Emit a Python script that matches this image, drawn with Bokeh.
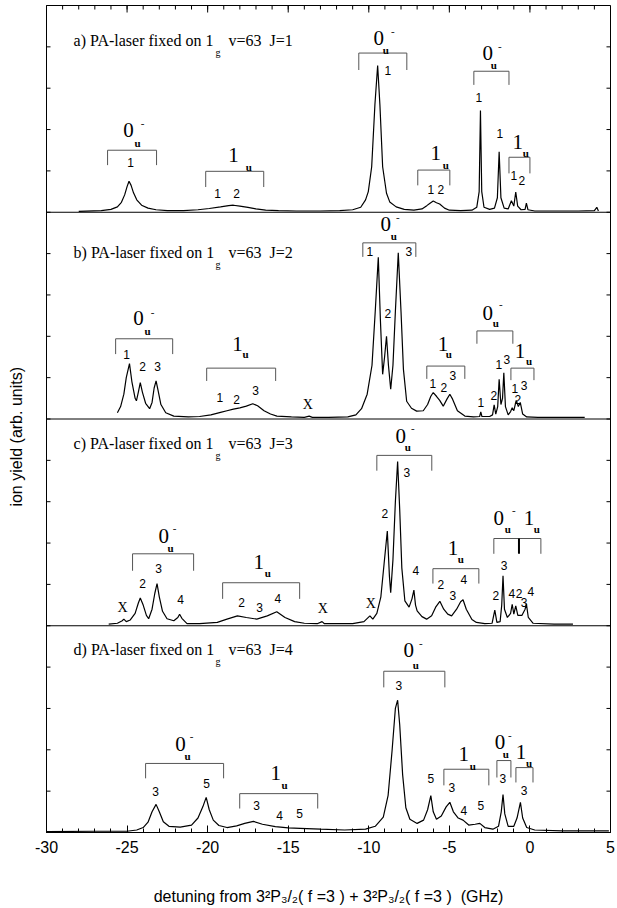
from bokeh.plotting import figure
from bokeh.models import ColumnDataSource, LinearAxis, FixedTicker, Span, Range1d
from bokeh.core.properties import value
from bokeh.embed import file_html
from bokeh.resources import INLINE

# ---------------- data ----------------
x_ticks = [-30, -25, -20, -15, -10, -5, 0, 5]
x_tick_labels = ["-30", "-25", "-20", "-15", "-10", "-5", "0", "5"]
x_minor_ticks = list(range(-30, 6))
y_ticks = list(range(1, 20))

# panel a (J=1) trace: detuning (GHz), ion yield (arb.)
a_ghz = [-28.0, -26.6, -26.0, -25.6, -25.35, -25.15, -25.0, -24.88, -24.75, -24.6, -24.4, -24.1, -23.7, -23.2,
         -22.5, -21.5, -20.6, -19.9, -19.2, -18.7, -18.4, -18.0, -17.5, -17.0, -16.4, -15.6, -14.5, -13.0,
         -11.8, -11.0, -10.5, -10.2, -10.03, -9.82, -9.62, -9.45, -9.31, -9.14, -8.9, -8.7, -8.3, -7.8, -7.2,
         -6.7, -6.4, -6.2, -6.0, -5.8, -5.6, -5.3, -5.0, -4.3, -3.6, -3.3, -3.15, -3.07, -2.99, -2.85, -2.5,
         -2.2, -2.02, -1.91, -1.8, -1.6, -1.35, -1.15, -1.0, -0.88, -0.76, -0.55, -0.3, -0.22, -0.12, 0.3,
         1.5, 3.0, 4.0, 4.15, 4.25]
a_yield = [0.02, 0.04, 0.07, 0.13, 0.24, 0.42, 0.62, 0.75, 0.65, 0.47, 0.30, 0.17, 0.10, 0.06,
           0.04, 0.04, 0.06, 0.09, 0.13, 0.16, 0.17, 0.15, 0.12, 0.08, 0.05, 0.04, 0.03, 0.03,
           0.04, 0.06, 0.12, 0.30, 0.50, 1.10, 2.60, 3.55, 2.60, 1.10, 0.46, 0.25, 0.13, 0.07, 0.05,
           0.08, 0.16, 0.22, 0.27, 0.23, 0.20, 0.10, 0.05, 0.04, 0.05, 0.12, 0.50, 2.46, 0.50, 0.12, 0.07,
           0.10, 0.35, 1.46, 0.35, 0.10, 0.08, 0.28, 0.15, 0.49, 0.15, 0.06, 0.07, 0.22, 0.06, 0.03,
           0.03, 0.03, 0.04, 0.12, 0.03]

# panel b (J=2)
b_ghz = [-25.6, -25.4, -25.2, -25.05, -24.85, -24.7, -24.5, -24.42, -24.3, -24.18, -24.05, -23.85, -23.6,
         -23.45, -23.32, -23.2, -23.08, -22.9, -22.6, -22.1, -21.2, -20.5, -19.8, -19.2, -18.8, -18.4, -18.0,
         -17.6, -17.2, -16.9, -16.5, -16.1, -15.7, -14.8, -14.0, -13.7, -13.5, -12.5, -11.3, -10.8, -10.45,
         -10.1, -9.8, -9.6, -9.41, -9.28, -9.14, -9.02, -8.9, -8.78, -8.64, -8.5, -8.35, -8.17, -8.0, -7.85,
         -7.65, -7.35, -7.03, -6.62, -6.35, -6.15, -6.0, -5.8, -5.6, -5.38, -5.15, -4.97, -4.8, -4.5, -4.04,
         -3.5, -3.12, -3.05, -2.98, -2.5, -2.32, -2.22, -2.12, -2.0, -1.91, -1.8, -1.7, -1.62, -1.52, -1.35,
         -1.2, -1.1, -1.0, -0.85, -0.72, -0.6, -0.45, -0.2, 0.5, 2.0, 3.4]
b_yield = [0.15, 0.30, 0.60, 1.00, 1.34, 0.90, 0.50, 0.44, 0.65, 0.88, 0.65, 0.38, 0.25,
           0.40, 0.75, 0.92, 0.70, 0.35, 0.15, 0.07, 0.05, 0.06, 0.10, 0.16, 0.20, 0.24, 0.27,
           0.31, 0.37, 0.32, 0.20, 0.12, 0.07, 0.05, 0.04, 0.07, 0.04, 0.04, 0.05, 0.10, 0.25,
           0.60, 1.30, 2.60, 3.91, 2.40, 1.08, 1.50, 2.00, 1.30, 0.72, 1.30, 2.60, 4.02, 2.60, 1.20,
           0.43, 0.26, 0.19, 0.20, 0.35, 0.55, 0.64, 0.55, 0.45, 0.31, 0.48, 0.60, 0.48, 0.20, 0.07,
           0.05, 0.06, 0.17, 0.06, 0.06, 0.10, 0.34, 0.12, 0.30, 0.96, 0.35, 0.50, 1.12, 0.30, 0.10,
           0.18, 0.27, 0.20, 0.45, 0.30, 0.40, 0.12, 0.05, 0.04, 0.04, 0.04]

# panel c (J=3)
c_ghz = [-26.14, -25.6, -25.3, -25.2, -25.05, -24.8, -24.5, -24.3, -24.18, -24.0, -23.8, -23.66, -23.45,
         -23.28, -23.14, -23.0, -22.8, -22.52, -22.1, -21.85, -21.74, -21.6, -21.28, -20.5, -19.4, -18.8,
         -18.15, -17.6, -16.95, -16.3, -15.71, -15.2, -14.6, -14.0, -13.2, -12.9, -12.75, -11.0, -10.3,
         -9.93, -9.75, -9.5, -9.25, -9.05, -8.85, -8.72, -8.64, -8.5, -8.35, -8.21, -8.08, -7.95, -7.76,
         -7.5, -7.32, -7.2, -7.1, -7.0, -6.7, -6.41, -6.1, -5.85, -5.59, -5.35, -5.1, -4.86, -4.55, -4.3,
         -4.15, -3.95, -3.6, -3.32, -2.8, -2.35, -2.18, -2.05, -1.85, -1.75, -1.67, -1.58, -1.4, -1.2,
         -1.1, -1.0, -0.88, -0.75, -0.5, -0.3, -0.22, -0.1, 0.2, 1.5, 2.67]
c_yield = [0.04, 0.06, 0.12, 0.16, 0.10, 0.14, 0.30, 0.55, 0.67, 0.50, 0.25, 0.17, 0.40,
           0.78, 1.02, 0.70, 0.35, 0.17, 0.12, 0.20, 0.28, 0.18, 0.05, 0.05, 0.08, 0.16,
           0.24, 0.20, 0.16, 0.24, 0.34, 0.20, 0.10, 0.06, 0.05, 0.10, 0.05, 0.05, 0.10,
           0.24, 0.16, 0.30, 0.70, 1.50, 2.29, 1.20, 0.80, 1.60, 3.00, 3.97, 2.80, 1.40, 0.60,
           0.45, 0.65, 0.86, 0.50, 0.36, 0.22, 0.16, 0.24, 0.45, 0.59, 0.40, 0.28, 0.24, 0.40, 0.58,
           0.63, 0.40, 0.15, 0.08, 0.05, 0.06, 0.38, 0.08, 0.10, 0.50, 1.21, 0.40, 0.20, 0.30,
           0.52, 0.28, 0.48, 0.25, 0.25, 0.40, 0.53, 0.20, 0.06, 0.04, 0.04]

# panel d (J=4)
d_ghz = [-30.0, -27.0, -25.0, -24.4, -24.0, -23.7, -23.45, -23.2, -23.0, -22.75, -22.4, -21.7, -21.0,
         -20.6, -20.3, -20.09, -19.9, -19.65, -19.3, -18.8, -18.2, -17.7, -17.16, -16.6, -15.8, -15.0,
         -14.26, -13.0, -11.5, -10.2, -9.6, -9.1, -8.8, -8.55, -8.35, -8.21, -8.08, -7.9, -7.7, -7.45,
         -7.0, -6.6, -6.35, -6.15, -6.0, -5.8, -5.5, -5.2, -4.97, -4.75, -4.45, -4.15, -3.8, -3.4, -3.11,
         -2.8, -2.3, -1.95, -1.78, -1.67, -1.56, -1.35, -1.0, -0.8, -0.59, -0.45, -0.2, 0.3, 2.0, 4.9]
d_yield = [0.02, 0.03, 0.03, 0.06, 0.12, 0.25, 0.50, 0.68, 0.50, 0.26, 0.15, 0.13, 0.18,
           0.35, 0.62, 0.85, 0.55, 0.30, 0.17, 0.12, 0.16, 0.22, 0.27, 0.20, 0.14, 0.11,
           0.10, 0.08, 0.06, 0.08, 0.15, 0.37, 0.90, 2.00, 3.00, 3.20, 2.60, 1.40, 0.60, 0.32,
           0.22, 0.30, 0.55, 0.89, 0.50, 0.32, 0.40, 0.62, 0.73, 0.50, 0.35, 0.30, 0.18, 0.20, 0.22,
           0.12, 0.08, 0.15, 0.50, 0.92, 0.45, 0.15, 0.15, 0.35, 0.73, 0.35, 0.12, 0.06, 0.04, 0.04]

# panel titles
NB = "\u00a0"
title_heads = ["a) PA-laser fixed on 1", "b) PA-laser fixed on 1", "c) PA-laser fixed on 1", "d) PA-laser fixed on 1"]
title_tails = ["v=63" + NB * 2 + "J=1", "v=63" + NB * 2 + "J=2", "v=63" + NB * 2 + "J=3", "v=63" + NB * 2 + "J=4"]
title_y = [4.16, 4.02, 4.41, 4.43]

# brackets: (start GHz, end GHz, top, bottom of end ticks) in panel units
a_brackets = [(-26.21, -23.17, 1.50, 1.14), (-20.12, -16.52, 0.99, 0.61), (-10.62, -7.64, 3.85, 3.44),
              (-6.96, -4.97, 1.02, 0.65), (-3.48, -1.30, 3.41, 3.08), (-1.30, 0.0, 1.33, 0.94)]
b_brackets = [(-25.71, -22.17, 1.94, 1.57), (-20.06, -15.78, 1.23, 0.92), (-10.37, -7.08, 4.26, 3.92),
              (-6.40, -4.04, 1.28, 0.97), (-3.29, -1.06, 2.13, 1.82), (-1.18, 0.25, 1.23, 0.94)]
c_brackets = [(-24.66, -20.87, 1.74, 1.33), (-19.07, -14.29, 1.04, 0.65), (-9.50, -6.09, 4.12, 3.75),
              (-6.02, -3.17, 1.38, 1.02), (-2.24, 0.68, 2.11, 1.74)]
c_divider = (-0.68, 2.11, 1.74)
d_brackets = [(-23.85, -19.01, 1.67, 1.31), (-18.01, -13.17, 0.94, 0.58), (-9.07, -5.28, 3.90, 3.51),
              (-5.34, -2.55, 1.53, 1.14), (-2.05, -1.18, 1.74, 1.33), (-0.87, 0.19, 1.57, 1.21)]

# state symbols: large digit, subscript u, superscript minus
a_big = [(-24.91, 1.99, "0"), (-18.39, 1.38, "1"), (-9.38, 4.21, "0"), (-5.84, 1.43, "1"), (-2.61, 3.85, "0"), (-0.75, 1.69, "1")]
a_u = [(-24.35, 1.67), (-17.45, 1.09), (-8.94, 3.92), (-5.22, 1.14), (-2.24, 3.56), (-0.25, 1.43)]
a_minus = [(-24.04, 2.15), (-8.51, 4.36), (-1.86, 4.00)]
b_big = [(-24.29, 2.45, "0"), (-18.14, 1.82, "1"), (-8.94, 4.72, "0"), (-5.40, 1.82, "1"), (-2.61, 2.57, "0"), (-0.62, 1.65, "1")]
b_u = [(-23.73, 2.13), (-17.64, 1.57), (-8.45, 4.43), (-5.03, 1.57), (-2.11, 2.32), (-0.06, 1.40)]
b_minus = [(-23.42, 2.57), (-8.20, 4.87), (-1.80, 2.78)]
c_big = [(-22.73, 2.18, "0"), (-16.83, 1.53, "1"), (-8.01, 4.60, "0"), (-4.78, 1.89, "1"), (-1.93, 2.61, "0"), (-0.06, 2.61, "1")]
c_u = [(-22.30, 1.89), (-16.27, 1.28), (-7.58, 4.33), (-4.29, 1.62), (-1.37, 2.35), (0.43, 2.35)]
c_minus = [(-22.05, 2.35), (-7.27, 4.77), (-1.00, 2.78)]
d_big = [(-21.68, 2.15, "0"), (-15.78, 1.43, "1"), (-7.52, 4.41, "0"), (-4.10, 1.91, "1"), (-1.86, 2.18, "0"), (-0.56, 1.94, "1")]
d_u = [(-21.24, 1.86), (-15.22, 1.14), (-7.08, 4.04), (-3.54, 1.62), (-1.49, 1.91), (-0.06, 1.67)]
d_minus = [(-20.99, 2.32), (-6.77, 4.58), (-1.24, 2.35)]

# line assignment numbers
a_nums = [(-24.78, 1.21, "1"), (-19.38, 0.46, "1"), (-18.20, 0.46, "2"), (-8.82, 3.44, "1"), (-6.15, 0.56, "1"),
          (-5.53, 0.56, "2"), (-3.17, 2.78, "1"), (-1.86, 1.91, "1"), (-1.00, 0.90, "1"), (-0.50, 0.77, "2")]
b_nums = [(-25.03, 1.57, "1"), (-24.04, 1.26, "2"), (-23.11, 1.26, "3"), (-19.25, 0.53, "1"), (-18.20, 0.48, "2"),
          (-17.02, 0.68, "3"), (-9.94, 4.04, "1"), (-7.52, 4.04, "3"), (-8.82, 2.54, "2"), (-6.02, 0.87, "1"),
          (-5.34, 0.75, "2"), (-4.78, 1.04, "3"), (-3.04, 0.39, "1"), (-2.24, 0.58, "2"), (-1.93, 1.33, "1"),
          (-1.43, 1.43, "3"), (-0.93, 0.73, "1"), (-0.37, 0.80, "3"), (-0.75, 0.48, "2")]
c_nums = [(-24.04, 1.02, "2"), (-23.04, 1.38, "3"), (-21.68, 0.63, "4"), (-17.89, 0.56, "2"), (-16.77, 0.44, "3"),
          (-15.65, 0.65, "4"), (-7.64, 3.70, "3"), (-9.01, 2.71, "2"), (-7.08, 1.33, "4"), (-5.53, 0.99, "2"),
          (-4.78, 0.73, "3"), (-4.10, 1.11, "4"), (-1.61, 1.45, "3"), (-2.11, 0.73, "2"), (-1.12, 0.77, "4"),
          (-0.68, 0.77, "2"), (-0.37, 0.56, "3"), (0.06, 0.82, "4")]
d_nums = [(-23.23, 0.99, "3"), (-20.06, 1.19, "5"), (-16.96, 0.65, "3"), (-15.53, 0.41, "4"), (-14.29, 0.46, "5"),
          (-8.14, 3.56, "3"), (-6.15, 1.31, "5"), (-4.84, 1.09, "3"), (-4.10, 0.53, "4"), (-3.04, 0.65, "5"),
          (-1.68, 1.31, "3"), (-0.37, 1.02, "3")]

# spurious lines marked X
b_X = [(-13.79, 0.34)]
c_X = [(-25.28, 0.44), (-12.86, 0.41), (-9.88, 0.53)]

x_title = ("detuning from 3\u00b2P\u2083/\u2082( f =3 ) + 3\u00b2P\u2083/\u2082( f =3 )" + NB * 2 + "(GHz)")
y_title = "ion yield (arb. units)"

# ---------------- figure ----------------
PANEL = 5.0
YMAX = 4 * PANEL
panels = [
    dict(ghz=a_ghz, y=a_yield, off=3 * PANEL, br=a_brackets, big=a_big, u=a_u, mi=a_minus, nums=a_nums, X=[]),
    dict(ghz=b_ghz, y=b_yield, off=2 * PANEL, br=b_brackets, big=b_big, u=b_u, mi=b_minus, nums=b_nums, X=b_X),
    dict(ghz=c_ghz, y=c_yield, off=1 * PANEL, br=c_brackets, big=c_big, u=c_u, mi=c_minus, nums=c_nums, X=c_X),
    dict(ghz=d_ghz, y=d_yield, off=0.0, br=d_brackets, big=d_big, u=d_u, mi=d_minus, nums=d_nums, X=[]),
]

p = figure(frame_width=564, frame_height=827, x_range=Range1d(-30, 5), y_range=Range1d(0, YMAX),
           output_backend="svg", toolbar_location=None, x_axis_location=None, y_axis_location=None,
           min_border_left=46, min_border_right=7, min_border_top=5, min_border_bottom=76,
           background_fill_color="white", border_fill_color="white")
p.outline_line_color = "black"
p.outline_line_width = 1
p.grid.visible = False

SANS = value("Liberation Sans")
SERIF = value("Liberation Serif")

# bottom axis with labels and inward ticks
xax = LinearAxis(ticker=FixedTicker(ticks=x_ticks, minor_ticks=x_minor_ticks),
                 major_tick_in=7, major_tick_out=0, minor_tick_in=4, minor_tick_out=0,
                 axis_line_color="black", major_tick_line_color="black", minor_tick_line_color="black",
                 major_label_overrides={t: l for t, l in zip(x_ticks, x_tick_labels)},
                 major_label_text_font="Liberation Sans", major_label_text_font_size="16px",
                 major_label_text_color="black", major_label_standoff=8,
                 axis_label=x_title, axis_label_text_font="Liberation Sans",
                 axis_label_text_font_size="16px", axis_label_text_font_style="normal",
                 axis_label_text_color="black", axis_label_standoff=32)
p.add_layout(xax, "below")

# left axis used only for its title (tick marks drawn below)
yax = LinearAxis(ticker=FixedTicker(ticks=[]), major_tick_in=0, major_tick_out=0,
                 minor_tick_in=0, minor_tick_out=0, axis_line_color="black",
                 axis_label=y_title + NB * 8, axis_label_text_font="Liberation Sans",
                 axis_label_text_font_size="16px", axis_label_text_font_style="normal",
                 axis_label_text_color="black", axis_label_standoff=22)
p.add_layout(yax, "left")

# top tick marks (inward) and left/right tick marks
TK_MAJ = 7 / 41.35
TK_MIN = 4 / 41.35
TK_H = 4 / 16.11
p.segment(x0=x_ticks, y0=[YMAX] * len(x_ticks), x1=x_ticks, y1=[YMAX - TK_MAJ] * len(x_ticks),
          line_color="black", line_width=1)
p.segment(x0=x_minor_ticks, y0=[YMAX] * len(x_minor_ticks), x1=x_minor_ticks,
          y1=[YMAX - TK_MIN] * len(x_minor_ticks), line_color="black", line_width=1)
p.segment(x0=[-30] * len(y_ticks), y0=y_ticks, x1=[-30 + TK_H] * len(y_ticks), y1=y_ticks,
          line_color="black", line_width=1)
p.segment(x0=[5] * len(y_ticks), y0=y_ticks, x1=[5 - TK_H] * len(y_ticks), y1=y_ticks,
          line_color="black", line_width=1)

for k in (1, 2, 3):
    p.add_layout(Span(location=k * PANEL, dimension="width", line_color="black", line_width=1))

for pan in panels:
    off = pan["off"]
    p.line(pan["ghz"], [v + off for v in pan["y"]], line_color="black", line_width=1.2)
    xs = [[b[0], b[0], b[1], b[1]] for b in pan["br"]]
    ys = [[b[3] + off, b[2] + off, b[2] + off, b[3] + off] for b in pan["br"]]
    p.multi_line(xs, ys, line_color="#555555", line_width=1)
    big = ColumnDataSource(dict(x=[t[0] for t in pan["big"]], y=[t[1] + off for t in pan["big"]],
                                t=[t[2] for t in pan["big"]]))
    p.text(x="x", y="y", text="t", source=big, text_font=SERIF, text_font_size="21px",
           text_align="center", text_baseline="middle", text_color="black")
    p.text(x=[t[0] for t in pan["u"]], y=[t[1] + off for t in pan["u"]], text=["u"] * len(pan["u"]),
           text_font=SERIF, text_font_size="11px", text_font_style="bold",
           text_align="center", text_baseline="middle", text_color="black")
    p.text(x=[t[0] for t in pan["mi"]], y=[t[1] + off for t in pan["mi"]], text=["-"] * len(pan["mi"]),
           text_font=SERIF, text_font_size="11px",
           text_align="center", text_baseline="middle", text_color="black")
    nums = ColumnDataSource(dict(x=[t[0] for t in pan["nums"]], y=[t[1] + off for t in pan["nums"]],
                                 t=[t[2] for t in pan["nums"]]))
    p.text(x="x", y="y", text="t", source=nums, text_font=SANS, text_font_size="12px",
           text_align="center", text_baseline="middle", text_color="black")
    if pan["X"]:
        p.text(x=[t[0] for t in pan["X"]], y=[t[1] + off for t in pan["X"]], text=["X"] * len(pan["X"]),
               text_font=SERIF, text_font_size="14px",
               text_align="center", text_baseline="middle", text_color="black")

# divider in panel c combined bracket
p.segment(x0=[c_divider[0]], y0=[c_divider[1] + PANEL], x1=[c_divider[0]], y1=[c_divider[2] + PANEL],
          line_color="black", line_width=2)

# panel titles
offs = [pan["off"] for pan in panels]
p.text(x=[-28.32] * 4, y=[ty + o for ty, o in zip(title_y, offs)], text=title_heads,
       text_font=SERIF, text_font_size="16px", text_align="left", text_baseline="middle", text_color="black")
p.text(x=[-19.35] * 4, y=[ty - 0.29 + o for ty, o in zip(title_y, offs)], text=["g"] * 4,
       text_font=SERIF, text_font_size="10px", text_align="center", text_baseline="middle", text_color="black")
p.text(x=[-18.70] * 4, y=[ty + o for ty, o in zip(title_y, offs)], text=title_tails,
       text_font=SERIF, text_font_size="16px", text_align="left", text_baseline="middle", text_color="black")

open("out.html", "w").write(file_html(p, INLINE))
